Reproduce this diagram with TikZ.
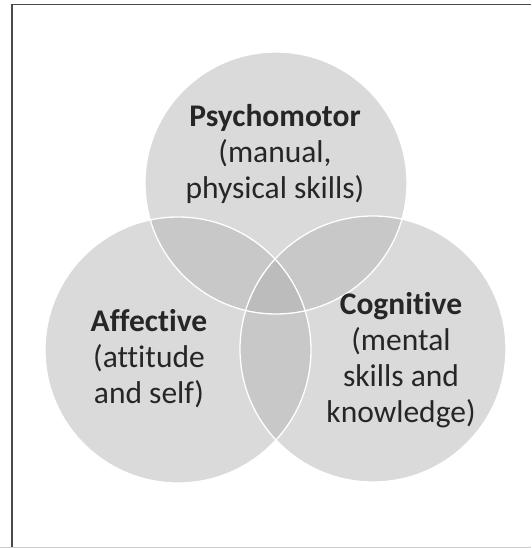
\documentclass[tikz,border=0pt]{standalone}
\usepackage{fontspec}
\setmainfont{Carlito}[Ligatures=NoCommon]
\definecolor{oneC}{HTML}{DADADB}
\definecolor{twoC}{HTML}{C8C8C9}
\definecolor{threeC}{HTML}{BCBCBD}
\definecolor{txt}{HTML}{262626}
\definecolor{framec}{HTML}{4A4A4A}
\begin{document}
\begin{tikzpicture}[x=1pt,y=-1pt,
  label/.style={align=center,text=txt,font=\fontsize{31.5}{36}\selectfont,inner sep=0pt},
  ring/.style={draw=white,line width=1.3pt}]
\useasboundingbox (0,0) rectangle (531,548);
\fill[white] (0,0) rectangle (531,548);
% circles
\coordinate (P) at (276,183);
\coordinate (A) at (178,350);
\coordinate (C) at (373,349);
\def\rP{131}\def\rA{133}\def\rC{133}
\fill[oneC] (P) circle (\rP) (A) circle (\rA) (C) circle (\rC);
\begin{scope}\clip (P) circle (\rP); \fill[twoC] (A) circle (\rA) (C) circle (\rC); \end{scope}
\begin{scope}\clip (A) circle (\rA); \fill[twoC] (C) circle (\rC); \end{scope}
\begin{scope}\clip (P) circle (\rP); \clip (A) circle (\rA); \fill[threeC] (C) circle (\rC); \end{scope}
\draw[ring] (P) circle (\rP) (A) circle (\rA) (C) circle (\rC);
% labels
\node[label] (psy) at (275,154) {\textbf{Psychomotor}\\(manual,\\physical skills)};
\node[label] (aff) at (149,359) {\textbf{Affective}\\(attitude\\and self)};
\node[label] (cog) at (401,360) {\textbf{Cognitive}\\(mental\\skills and\\knowledge)};
% frame
\draw[framec,line width=1.3pt] (12,548) -- (12,4.5) -- (531,4.5);
\draw[black!20,line width=1pt] (0,547) -- (531,547);
\end{tikzpicture}
\end{document}
